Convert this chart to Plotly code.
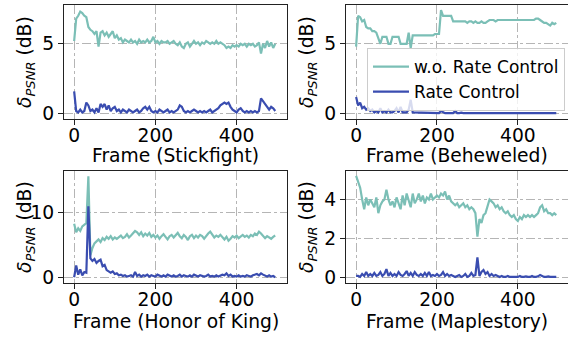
import plotly.graph_objects as go

frames = list(range(0, 500, 5))

stick_wo = [5.2, 6.8, 7.0, 7.3, 7.2, 7.0, 6.9, 6.2, 6.0, 5.9,
            5.7, 5.9, 4.8, 5.8, 5.9, 5.6, 5.8, 5.5, 5.7, 5.9,
            5.4, 5.6, 5.3, 5.4, 5.1, 5.3, 5.2, 5.1, 5.3, 5.1,
            5.2, 5.0, 5.3, 5.1, 5.2, 5.1, 5.3, 5.1, 5.2, 5.5,
            5.1, 5.2, 5.0, 5.2, 5.1, 5.1, 5.2, 5.0, 5.1, 5.2,
            5.0, 4.9, 5.1, 4.8, 4.7, 5.0, 5.1, 4.8, 5.0, 5.2,
            5.0, 5.1, 4.9, 5.1, 5.0, 5.2, 5.1, 5.0, 5.1, 5.0,
            5.2, 5.0, 5.1, 5.0, 4.9, 4.7, 4.8, 4.7, 4.9, 4.8,
            4.9, 4.8, 5.0, 4.9, 5.0, 4.8, 5.0, 4.9, 5.0, 4.8,
            4.9, 5.1, 4.3, 5.0, 4.7, 5.2, 4.8, 5.1, 4.7, 5.0]
stick_rc = [1.6, 0.2, 0.1, 0.3, 0.1, 0.2, 0.8, 0.6, 0.2, 0.3,
            0.1, 0.4, 0.1, 0.7, 0.5, 0.7, 0.3, 0.6, 0.2, 0.4,
            0.5, 0.2, 0.3, 0.1, 0.3, 0.2, 0.1, 0.3, 0.2, 0.1,
            0.2, 0.3, 0.1, 0.2, 0.4, 0.5, 0.3, 0.5, 0.2, 0.1,
            0.2, 0.1, 0.3, 0.2, 0.1, 0.2, 0.3, 0.1, 0.2, 0.1,
            0.2, 0.3, 0.6, 0.5, 0.2, 0.1, 0.2, 0.1, 0.2, 0.3,
            0.2, 0.1, 0.2, 0.1, 0.2, 0.1, 0.2, 0.3, 0.1, 0.2,
            0.3, 0.4, 0.6, 0.7, 0.8, 0.7, 0.8, 0.5, 0.3, 0.2,
            0.1, 0.3, 0.4, 0.2, 0.1, 0.2, 0.1, 0.2, 0.1, 0.2,
            0.1, 0.2, 1.1, 0.9, 0.7, 0.5, 0.3, 0.5, 0.4, 0.2]

bej_wo = [4.8, 7.0, 6.9, 6.6, 6.7, 6.2, 6.1, 6.1, 5.9, 5.9,
          5.8, 5.4, 5.0, 5.5, 5.5, 5.5, 5.0, 5.0, 5.5, 5.5,
          5.5, 5.5, 5.0, 5.0, 5.0, 5.0, 5.8, 4.7, 5.6, 5.6,
          5.6, 5.6, 5.6, 5.6, 5.6, 5.6, 5.6, 5.6, 5.6, 5.7,
          5.7, 5.7, 7.4, 7.0, 7.0, 7.0, 7.0, 7.0, 6.6, 6.6,
          6.6, 6.6, 6.6, 6.6, 6.6, 6.5, 6.6, 6.6, 6.5, 6.6,
          6.5, 6.5, 6.6, 6.5, 6.5, 6.6, 6.7, 6.7, 6.7, 6.6,
          6.7, 6.7, 6.7, 6.7, 6.7, 6.7, 6.7, 6.7, 6.7, 6.7,
          6.7, 6.7, 6.7, 6.7, 6.7, 6.7, 6.7, 6.7, 6.7, 6.8,
          6.8, 6.7, 6.6, 6.5, 6.5, 6.4, 6.3, 6.5, 6.4, 6.5]
bej_rc = [1.2, 0.6, 0.8, 0.4, 0.5, 0.3, 0.4, 0.2, 0.3, 0.1,
          0.2, 0.1, 0.4, 0.1, 0.2, 0.1, 0.3, 0.1, 0.1, 0.2,
          0.4, 0.1, 0.5, 0.1, 0.1, 0.1, 0.3, 1.0, 0.1, 0.1,
          0.05, 0.1, 0.05, 0.05, 0.1, 0.05, 0.05, 0.1, 0.05, 0.05,
          0.1, 0.05, 0.2, 0.1, 0.05, 0.05, 0.05, 0.1, 0.05, 0.2,
          0.05, 0.05, 0.08, 0.05, 0.05, 0.1, 0.05, 0.05, 0.08, 0.05,
          0.05, 0.1, 0.05, 0.05, 0.08, 0.05, 0.05, 0.1, 0.05, 0.05,
          0.08, 0.05, 0.05, 0.1, 0.05, 0.05, 0.08, 0.05, 0.05, 0.1,
          0.05, 0.05, 0.08, 0.05, 0.05, 0.1, 0.05, 0.05, 0.08, 0.05,
          0.05, 0.1, 0.05, 0.05, 0.08, 0.05, 0.05, 0.05, 0.05, 0.05]

hok_wo = [8.3, 7.0, 7.6, 7.2, 7.9, 8.1, 8.4, 15.6, 3.5, 4.6,
          5.3, 5.6, 5.9, 5.5, 6.1, 5.8, 6.3, 6.0, 6.4, 5.9,
          6.2, 6.0, 6.3, 6.5, 6.1, 6.3, 6.7, 6.2, 6.5, 6.8,
          7.2, 7.0, 6.6, 7.0, 6.4, 6.8, 6.5, 6.9, 6.3, 6.6,
          6.2, 6.5, 6.0, 6.4, 6.7, 6.3, 5.9, 6.4, 6.6, 6.2,
          6.5, 6.9, 6.4, 6.1, 6.6, 6.3, 5.8, 6.4, 6.6, 6.1,
          6.5, 6.2, 6.6, 6.4, 6.0, 6.5, 6.8, 7.1, 6.6, 6.2,
          6.5, 6.3, 6.6, 6.2, 5.9, 6.3, 5.7, 6.0, 6.4, 6.2,
          6.5, 6.1, 6.4, 6.6, 6.3, 6.5, 6.2, 6.6, 6.4, 6.8,
          6.6, 7.1, 6.8, 6.4, 6.1, 6.4, 6.2, 6.0, 6.3, 6.5]
hok_rc = [0.1, 1.9, 0.5, 1.3, 0.4, 0.9, 0.8, 11.0, 3.0, 2.6,
          2.9, 2.3, 2.6, 2.8, 1.8, 2.0, 1.2, 1.0, 0.8, 1.0,
          0.6, 0.7, 0.4, 0.5, 0.3, 0.4, 0.2, 0.3, 0.4, 0.2,
          0.9, 0.3, 0.5, 0.2, 0.4, 0.3, 0.5, 0.2, 0.4, 0.3,
          0.2, 0.5, 0.3, 0.2, 0.4, 0.2, 0.5, 0.3, 0.2, 0.4,
          0.2, 0.3, 0.5, 0.2, 0.4, 0.3, 0.2, 0.4, 0.2, 0.5,
          0.3, 0.2, 0.4, 0.3, 0.2, 0.3, 0.5, 0.2, 0.3, 0.2,
          0.4, 0.2, 0.3, 0.5, 0.4, 0.7, 0.3, 0.5, 0.2, 0.3,
          0.2, 0.4, 0.2, 0.3, 0.2, 0.4, 0.3, 0.2, 0.4, 0.5,
          0.6, 0.4, 0.7, 0.5, 0.3, 0.2, 0.4, 0.2, 0.3, 0.1]

maple_wo = [5.2, 4.9, 4.6, 4.0, 3.5, 4.1, 3.7, 4.0, 3.8, 3.6,
            4.1, 3.3, 3.7, 3.9, 4.0, 4.5, 4.0, 3.7, 3.9, 3.6,
            4.1, 3.8, 3.5, 4.2, 3.7, 4.3, 3.9, 3.6, 4.3, 3.8,
            4.0, 4.3, 3.9, 4.2, 3.8, 4.1, 4.0, 4.3, 4.0, 4.1,
            4.2, 4.1, 4.3, 4.2, 4.4, 4.0, 4.2, 3.9, 3.8, 3.7,
            3.8, 3.6, 3.7, 3.8, 3.6, 3.7, 3.5, 3.6, 3.5, 3.3,
            2.1, 3.0, 2.8, 3.2, 3.3, 3.7, 4.0, 3.9, 3.8, 3.6,
            3.7, 3.5, 3.6, 3.4, 3.3, 3.4, 3.2, 3.1, 3.2, 3.0,
            2.9, 3.1, 3.0, 3.2, 3.1, 3.2, 3.1, 3.2, 3.1, 3.2,
            3.3, 3.6, 3.7, 3.4, 3.5, 3.3, 3.3, 3.2, 3.3, 3.2]
maple_rc = [0.1, 0.1, 0.05, 0.2, 0.1, 0.3, 0.1, 0.2, 0.1, 0.25,
            0.1, 0.15, 0.3, 0.1, 0.2, 0.45, 0.1, 0.25, 0.1, 0.2,
            0.1, 0.3, 0.15, 0.1, 0.2, 0.35, 0.1, 0.25, 0.1, 0.3,
            0.15, 0.1, 0.2, 0.1, 0.25, 0.1, 0.3, 0.1, 0.15, 0.1,
            0.2, 0.1, 0.15, 0.3, 0.1, 0.2, 0.1, 0.15, 0.1, 0.05,
            0.1, 0.15, 0.05, 0.1, 0.2, 0.05, 0.1, 0.25, 0.1, 0.15,
            1.05, 0.1, 0.3, 0.4, 0.2, 0.3, 0.1, 0.2, 0.1, 0.15,
            0.1, 0.05, 0.1, 0.05, 0.05, 0.1, 0.05, 0.05, 0.08, 0.05,
            0.05, 0.1, 0.05, 0.05, 0.08, 0.05, 0.05, 0.1, 0.05, 0.05,
            0.08, 0.15, 0.1, 0.05, 0.05, 0.08, 0.05, 0.05, 0.05, 0.05]

game_names = ["Stickfight", "Beheweled", "Honor of King", "Maplestory"]
series_wo = [stick_wo, bej_wo, hok_wo, maple_wo]
series_rc = [stick_rc, bej_rc, hok_rc, maple_rc]
y_ranges = [[-0.37, 7.77], [-0.37, 7.77], [-0.78, 16.4], [-0.26, 5.45]]
y_ticks = [[0, 5], [0, 5], [0, 10], [0, 2, 4]]
legend_names = ["w.o. Rate Control", "Rate Control"]

W, H = 568, 337
TEAL = "#7bbfb6"
BLUE = "#3a4db0"
FONT = "DejaVu Sans"
FS = 18.7

# pixel boxes: (left, right, top, bottom)
boxes = [(64, 287, 5, 119), (346, 568, 5, 119),
         (64, 287, 171, 283), (346, 568, 171, 283)]

fig = go.Figure()
layout = dict(
    width=W, height=H, margin=dict(l=0, r=0, t=0, b=0),
    paper_bgcolor="white", plot_bgcolor="white",
    font=dict(family=FONT, size=FS, color="black"),
    showlegend=True,
    legend=dict(x=367 / W, y=1 - 48 / H, xanchor="left", yanchor="top",
                bgcolor="rgba(255,255,255,0.8)", bordercolor="#cccccc",
                borderwidth=1, font=dict(size=17, family=FONT),
                tracegroupgap=0, itemwidth=36),
)
annotations = []
for i in range(4):
    l, r, t, b = boxes[i]
    xa = "xaxis" if i == 0 else f"xaxis{i+1}"
    ya = "yaxis" if i == 0 else f"yaxis{i+1}"
    xr = "x" if i == 0 else f"x{i+1}"
    yr = "y" if i == 0 else f"y{i+1}"
    common = dict(showline=True, mirror=True, linecolor="#222222", linewidth=1,
                  ticks="outside", ticklen=5, tickwidth=1, tickcolor="#222222",
                  showgrid=True, gridcolor="#b5b5b5", griddash="dashdot", gridwidth=1,
                  zeroline=False, automargin=False,
                  tickfont=dict(size=FS, family=FONT, color="black"))
    layout[xa] = dict(domain=[l / W, r / W], range=[-25, 524], anchor=yr,
                      tickvals=[0, 200, 400], ticklabelstandoff=-5, **common)
    layout[ya] = dict(domain=[1 - b / H, 1 - t / H], range=y_ranges[i], anchor=xr,
                      tickvals=y_ticks[i], **common)
    fig.add_trace(go.Scatter(x=frames[:len(series_wo[i])], y=series_wo[i], mode="lines",
                             line=dict(color=TEAL, width=2.2), name=legend_names[0],
                             showlegend=(i == 1), xaxis=xr, yaxis=yr))
    fig.add_trace(go.Scatter(x=frames[:len(series_rc[i])], y=series_rc[i], mode="lines",
                             line=dict(color=BLUE, width=2.2), name=legend_names[1],
                             showlegend=(i == 1), xaxis=xr, yaxis=yr))
    annotations.append(dict(text=f"Frame ({game_names[i]})", xref="paper", yref="paper",
                            x=(l + r) / 2 / W, y=1 - (155 if i < 2 else 321) / H,
                            xanchor="center", yanchor="middle", showarrow=False,
                            font=dict(size=FS, family=FONT, color="black")))
    annotations.append(dict(text="<i>δ</i><sub><i>PSNR</i></sub> (dB)", xref="paper", yref="paper",
                            x=(l - 38) / W, y=1 - ((t + b) / 2) / H,
                            xanchor="center", yanchor="middle", showarrow=False, textangle=-90,
                            font=dict(size=FS, family=FONT, color="black")))
layout["annotations"] = annotations
fig.update_layout(**layout)
fig.write_html("out.html", config={"displayModeBar": False},
               post_script="document.body.style.margin='0';document.body.style.overflow='hidden';")
